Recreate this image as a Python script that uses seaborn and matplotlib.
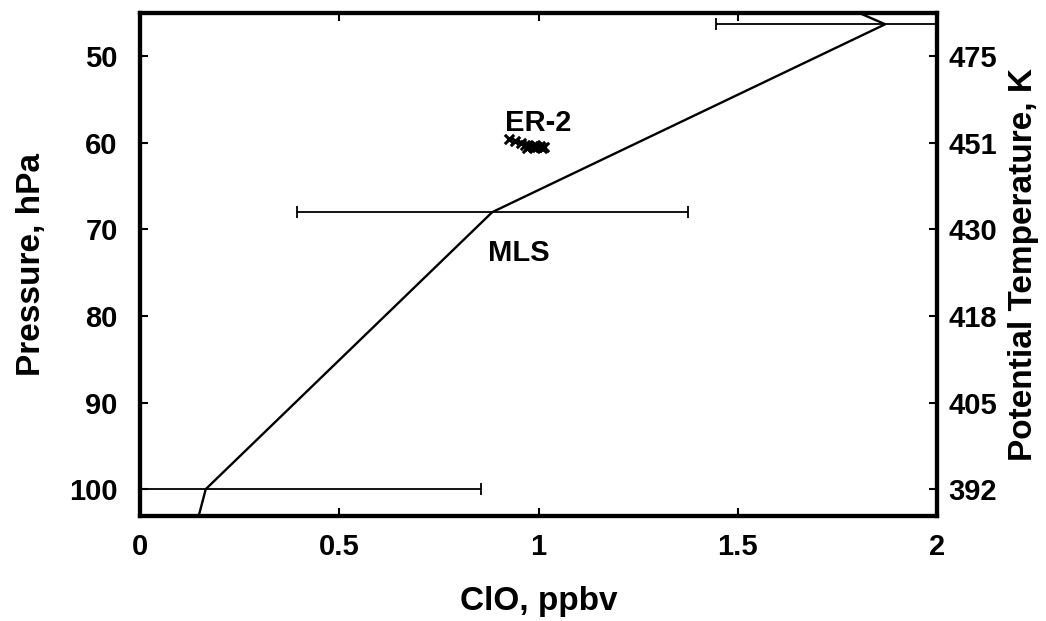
import numpy as np
import pandas as pd
import matplotlib
matplotlib.use("Agg")
import matplotlib.pyplot as plt
import seaborn as sns

# MLS profile (ClO ppbv vs pressure hPa)
mls_clo = [1.78, 1.87, 0.884, 0.165, 0.145]
mls_p = [44.5, 46.3, 68.0, 100.0, 103.5]
# MLS error bars
err_p = [46.3, 68.0, 100.0]
err_clo = [1.87, 0.884, 0.165]
err_half = [0.425, 0.49, 0.69]
# ER-2 observations
er2_clo = [0.925, 0.94, 0.955, 0.965, 0.975, 0.985, 0.995, 1.005, 1.015, 0.99, 0.97, 1.01]
er2_p = [59.6, 59.8, 60.0, 60.3, 60.4, 60.5, 60.5, 60.4, 60.5, 60.2, 60.6, 60.6]
# Axis ticks
x_ticks = [0, 0.5, 1, 1.5, 2]
x_ticklabels = ["0", "0.5", "1", "1.5", "2"]
p_ticks = [50, 60, 70, 80, 90, 100]
theta_labels = ["475", "451", "430", "418", "405", "392"]

sns.set_style("ticks")
plt.rcParams['font.family'] = ['Liberation Sans', 'DejaVu Sans']
plt.rcParams['font.weight'] = 'bold'
for k in ["text.color", "axes.labelcolor", "xtick.color", "ytick.color", "axes.edgecolor"]:
    plt.rcParams[k] = "black"

fig = plt.figure(figsize=(10.46, 6.21), dpi=100)
ax = fig.add_axes([140/1046, 1-516/621, (937-140)/1046, (516-13)/621])

ax.errorbar(err_clo, err_p, xerr=err_half, fmt='none', ecolor='black',
            elinewidth=1.3, capsize=4, capthick=1.3, clip_on=True)

df = pd.DataFrame({"clo": mls_clo, "p": mls_p})
sns.lineplot(data=df, x="clo", y="p", sort=False, estimator=None, color="black",
             linewidth=1.7, ax=ax)

er2 = pd.DataFrame({"clo": er2_clo, "p": er2_p})
sns.scatterplot(data=er2, x="clo", y="p", marker="x", color="black", s=45,
                linewidth=2.2, ax=ax)

ax.text(1.0, 57.7, "ER-2", ha="center", va="center", fontsize=21, fontweight="bold")
ax.text(0.95, 72.7, "MLS", ha="center", va="center", fontsize=21, fontweight="bold")

ax.set_xlim(0, 2)
ax.set_ylim(103.1, 45.0)
ax.set_xticks(x_ticks)
ax.set_xticklabels(x_ticklabels)
ax.set_yticks(p_ticks)
ax.set_yticklabels([str(v) for v in p_ticks])
ax.tick_params(direction="in", length=6, width=1.5, labelsize=21, top=True,
               right=False, colors="black")
ax.tick_params(axis="y", pad=16)
ax.tick_params(axis="x", pad=12)
for lab in ax.get_xticklabels() + ax.get_yticklabels():
    lab.set_fontweight("bold")
ax.set_xlabel("ClO, ppbv", fontsize=24, fontweight="bold", labelpad=18)
ax.set_ylabel("Pressure, hPa", fontsize=24, fontweight="bold", labelpad=16)
for s in ax.spines.values():
    s.set_linewidth(3)
    s.set_color("black")
    s.set_visible(True)

ax2 = ax.twinx()
ax2.set_ylim(ax.get_ylim())
ax2.set_yticks(p_ticks)
ax2.set_yticklabels(theta_labels)
ax2.tick_params(direction="in", length=6, width=1.5, labelsize=21, pad=8, colors="black")
for lab in ax2.get_yticklabels():
    lab.set_fontweight("bold")
ax2.set_ylabel("Potential Temperature, K", fontsize=24, fontweight="bold", labelpad=8)
for s in ax2.spines.values():
    s.set_linewidth(3)
    s.set_color("black")

fig.savefig("out.png", dpi=100)
